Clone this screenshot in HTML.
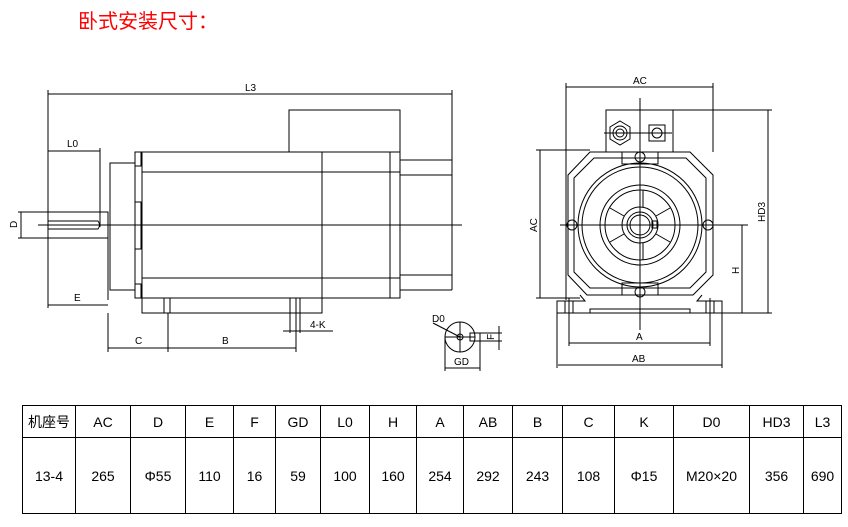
<!DOCTYPE html>
<html><head><meta charset="utf-8"><style>
body{margin:0;background:#fff;width:848px;height:527px;overflow:hidden;position:relative;font-family:"Liberation Sans","Noto Sans CJK SC",sans-serif}
.t{position:absolute;left:78px;top:5px;color:#f00;font-size:20px;letter-spacing:0px;font-family:"Noto Sans CJK SC",sans-serif}
svg{position:absolute;left:0;top:0}
svg text{font-family:"Liberation Sans",sans-serif;font-size:10px;fill:#000}
table{position:absolute;left:22px;top:405px;border-collapse:collapse;font-size:14px;font-family:"Liberation Sans","Noto Sans CJK SC",sans-serif}
td{border:1.5px solid #000;text-align:center;padding:0;color:#000}
tr.h td{height:31px}
tr.v td{height:75px}
</style></head><body>
<div class="t">卧式安装尺寸：</div>
<svg width="848" height="400" viewBox="0 0 848 400" stroke="#000" fill="none" stroke-width="1">
<!-- LEFT VIEW -->
<line x1="48" y1="94" x2="452" y2="94"/><text x="245" y="91" stroke="none">L3</text>
<line x1="48" y1="90" x2="48" y2="308"/><line x1="452" y1="90" x2="452" y2="290"/>
<rect x="289" y="110" width="111" height="42"/>
<rect x="135" y="152" width="265" height="146"/>
<line x1="142" y1="152" x2="142" y2="298"/>
<line x1="322" y1="152" x2="322" y2="313"/>
<line x1="390" y1="152" x2="390" y2="298"/>
<line x1="142" y1="172" x2="400" y2="172"/><line x1="142" y1="278" x2="400" y2="278"/>
<line x1="400" y1="160" x2="452" y2="160"/><line x1="400" y1="175" x2="452" y2="175"/>
<line x1="400" y1="275" x2="452" y2="275"/><line x1="400" y1="290" x2="452" y2="290"/>
<polyline points="135,163 110,163 110,290 135,290"/>
<line x1="108" y1="212" x2="108" y2="300"/>
<rect x="135" y="202" width="6" height="47"/>
<rect x="135" y="152" width="6" height="14"/><rect x="135" y="284" width="6" height="14"/>
<rect x="48" y="212" width="60" height="26"/>
<path d="M48 221 H98 Q101 225 98 229 H48"/>
<line x1="38" y1="225" x2="462" y2="225"/>
<line x1="18" y1="212" x2="48" y2="212"/><line x1="18" y1="238" x2="48" y2="238"/>
<line x1="21" y1="212" x2="21" y2="238"/>
<text x="0" y="0" stroke="none" transform="translate(17,228) rotate(-90)">D</text>
<line x1="48" y1="151" x2="100" y2="151"/><line x1="100" y1="148" x2="100" y2="227"/>
<text x="67" y="147" stroke="none">L0</text>
<line x1="48" y1="305" x2="108" y2="305"/><text x="74" y="301" stroke="none">E</text>
<rect x="142" y="298" width="180" height="15"/>
<line x1="164" y1="298" x2="164" y2="313"/><line x1="170" y1="298" x2="170" y2="313"/>
<line x1="290" y1="298" x2="290" y2="333"/><line x1="296" y1="298" x2="296" y2="333"/><line x1="300" y1="298" x2="300" y2="333"/>
<line x1="283" y1="331" x2="333" y2="331"/><text x="310" y="328" stroke="none">4-K</text>
<line x1="108" y1="313" x2="108" y2="352"/><line x1="168" y1="313" x2="168" y2="352"/><line x1="296" y1="333" x2="296" y2="352"/>
<line x1="108" y1="348" x2="296" y2="348"/>
<text x="135" y="344" stroke="none">C</text><text x="222" y="344" stroke="none">B</text>
<!-- GD detail -->
<circle cx="460" cy="337" r="15"/>
<circle cx="460" cy="337" r="3"/>
<line x1="445" y1="337" x2="475" y2="337"/><line x1="460" y1="322" x2="460" y2="352"/>
<line x1="433" y1="323" x2="460" y2="337"/>
<text x="432" y="322" stroke="none" font-size="9">D0</text>
<rect x="470" y="333" width="10" height="8"/>
<line x1="480" y1="333" x2="502" y2="333"/><line x1="480" y1="341" x2="502" y2="341"/>
<line x1="499" y1="326" x2="499" y2="350"/>
<text x="0" y="0" stroke="none" font-size="8" transform="translate(494,340) rotate(-90)">F</text>
<line x1="445" y1="337" x2="445" y2="371"/><line x1="480" y1="341" x2="480" y2="371"/>
<line x1="445" y1="368" x2="480" y2="368"/><text x="454" y="365" stroke="none">GD</text>
<!-- RIGHT VIEW -->
<line x1="566" y1="87" x2="713" y2="87"/><text x="633" y="84" stroke="none">AC</text>
<line x1="566" y1="83" x2="566" y2="300"/><line x1="713" y1="83" x2="713" y2="152"/>
<rect x="606" y="110" width="67" height="42"/>
<line x1="673" y1="110" x2="772" y2="110"/>
<polygon points="620,121 630,127 630,139 620,145 610,139 610,127"/>
<circle cx="620" cy="133" r="7"/><circle cx="620" cy="133" r="4"/>
<rect x="649" y="125" width="16" height="16"/><circle cx="657" cy="133" r="5"/>
<line x1="604" y1="133" x2="672" y2="133"/>
<polygon points="590,152 690,152 713,175 713,275 693,295 587,295 568,275 568,175"/>
<polygon points="594,158 686,158 706,178 706,272 690,288 590,288 574,272 574,178"/>
<rect x="622" y="152" width="36" height="12"/><rect x="622" y="283" width="36" height="12"/>
<circle cx="640" cy="225" r="62"/><circle cx="640" cy="225" r="58"/>
<circle cx="640" cy="225" r="40"/><circle cx="640" cy="225" r="35"/>
<circle cx="640" cy="225" r="18"/><circle cx="640" cy="225" r="13"/><circle cx="640" cy="225" r="10"/>
<line x1="656" y1="216" x2="670" y2="208"/><line x1="656" y1="234" x2="670" y2="242"/>
<line x1="624" y1="216" x2="610" y2="208"/><line x1="624" y1="234" x2="610" y2="242"/>
<line x1="643" y1="190" x2="643" y2="207"/><line x1="643" y1="243" x2="643" y2="260"/>
<rect x="652" y="221" width="5" height="7"/>
<circle cx="640" cy="157" r="5"/><circle cx="640" cy="292" r="5"/>
<circle cx="572" cy="225" r="5"/><circle cx="708" cy="225" r="5"/>
<line x1="640" y1="98" x2="640" y2="330"/>
<line x1="560" y1="225" x2="748" y2="225"/>
<line x1="536" y1="150" x2="590" y2="150"/><line x1="536" y1="298" x2="580" y2="298"/>
<line x1="540" y1="150" x2="540" y2="298"/>
<text x="0" y="0" stroke="none" transform="translate(537,232) rotate(-90)">AC</text>
<polyline points="580,295 585,301 557,301 557,313 722,313 722,301 697,301 702,295"/>
<polyline points="590,313 590,309 690,309 690,313"/>
<line x1="569" y1="298" x2="569" y2="346"/><line x1="710" y1="298" x2="710" y2="346"/>
<line x1="565" y1="301" x2="565" y2="313"/><line x1="573" y1="301" x2="573" y2="313"/>
<line x1="706" y1="301" x2="706" y2="313"/><line x1="714" y1="301" x2="714" y2="313"/>
<line x1="569" y1="343" x2="710" y2="343"/><text x="636" y="340" stroke="none">A</text>
<line x1="557" y1="313" x2="557" y2="368"/><line x1="722" y1="313" x2="722" y2="368"/>
<line x1="558" y1="365" x2="722" y2="365"/><text x="632" y="362" stroke="none">AB</text>
<line x1="722" y1="313" x2="772" y2="313"/>
<line x1="768" y1="110" x2="768" y2="313"/>
<text x="0" y="0" stroke="none" transform="translate(765,222) rotate(-90)">HD3</text>
<line x1="742" y1="225" x2="742" y2="313"/>
<text x="0" y="0" stroke="none" transform="translate(739,274) rotate(-90)">H</text>
</svg>
<table>
<tr class="h"><td style="width:52px">机座号</td><td style="width:54px">AC</td><td style="width:54px">D</td><td style="width:47px">E</td><td style="width:41px">F</td><td style="width:44px">GD</td><td style="width:48px">L0</td><td style="width:46px">H</td><td style="width:46px">A</td><td style="width:48px">AB</td><td style="width:49px">B</td><td style="width:51px">C</td><td style="width:58px">K</td><td style="width:75px">D0</td><td style="width:53px">HD3</td><td style="width:37px">L3</td></tr>
<tr class="v"><td>13-4</td><td>265</td><td>Φ55</td><td>110</td><td>16</td><td>59</td><td>100</td><td>160</td><td>254</td><td>292</td><td>243</td><td>108</td><td>Φ15</td><td>M20×20</td><td>356</td><td>690</td></tr>
</table>
</body></html>
